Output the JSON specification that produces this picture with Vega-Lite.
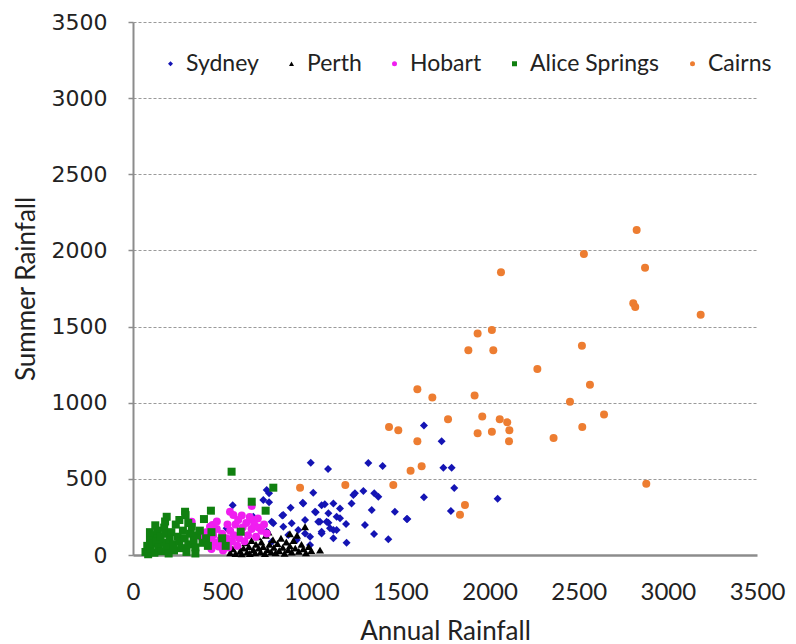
{
  "$schema": "https://vega.github.io/schema/vega-lite/v6.json",
  "autosize": {"type": "none"},
  "width": 624,
  "height": 533,
  "padding": {"left": 133, "top": 22, "right": 39, "bottom": 89},
  "background": "white",
  "config": {"view": {"stroke": null}},
  "data": {"values": [
    {"city":"Sydney","annual":997,"summer":606},{"city":"Sydney","annual":1094,"summer":565},{"city":"Sydney","annual":1320,"summer":604},{"city":"Sydney","annual":1400,"summer":584},{"city":"Sydney","annual":750,"summer":427},{"city":"Sydney","annual":763,"summer":405},{"city":"Sydney","annual":1011,"summer":409},{"city":"Sydney","annual":559,"summer":326},{"city":"Sydney","annual":731,"summer":361},{"city":"Sydney","annual":763,"summer":346},{"city":"Sydney","annual":884,"summer":311},{"city":"Sydney","annual":952,"summer":343},{"city":"Sydney","annual":1058,"summer":326},{"city":"Sydney","annual":1076,"summer":334},{"city":"Sydney","annual":1025,"summer":280},{"city":"Sydney","annual":1096,"summer":274},{"city":"Sydney","annual":1161,"summer":306},{"city":"Sydney","annual":1236,"summer":394},{"city":"Sydney","annual":1245,"summer":405},{"city":"Sydney","annual":1292,"summer":420},{"city":"Sydney","annual":1353,"summer":405},{"city":"Sydney","annual":1376,"summer":383},{"city":"Sydney","annual":837,"summer":260},{"city":"Sydney","annual":778,"summer":219},{"city":"Sydney","annual":843,"summer":186},{"city":"Sydney","annual":890,"summer":208},{"city":"Sydney","annual":965,"summer":230},{"city":"Sydney","annual":1049,"summer":219},{"city":"Sydney","annual":1096,"summer":212},{"city":"Sydney","annual":1142,"summer":251},{"city":"Sydney","annual":1195,"summer":204},{"city":"Sydney","annual":525,"summer":175},{"city":"Sydney","annual":675,"summer":251},{"city":"Sydney","annual":694,"summer":186},{"city":"Sydney","annual":750,"summer":153},{"city":"Sydney","annual":871,"summer":131},{"city":"Sydney","annual":965,"summer":142},{"city":"Sydney","annual":1058,"summer":142},{"city":"Sydney","annual":1124,"summer":164},{"city":"Sydney","annual":1198,"summer":81},{"city":"Sydney","annual":1301,"summer":197},{"city":"Sydney","annual":1352,"summer":138},{"city":"Sydney","annual":993,"summer":66},{"city":"Sydney","annual":778,"summer":87},{"city":"Sydney","annual":918,"summer":98},{"city":"Sydney","annual":1226,"summer":339},{"city":"Sydney","annual":955,"summer":339},{"city":"Sydney","annual":1124,"summer":339},{"city":"Sydney","annual":1339,"summer":295},{"city":"Sydney","annual":1469,"summer":284},{"city":"Sydney","annual":1535,"summer":236},{"city":"Sydney","annual":1021,"summer":284},{"city":"Sydney","annual":1161,"summer":241},{"city":"Sydney","annual":1039,"summer":219},{"city":"Sydney","annual":1086,"summer":219},{"city":"Sydney","annual":1142,"summer":164},{"city":"Sydney","annual":1058,"summer":153},{"city":"Sydney","annual":1432,"summer":103},{"city":"Sydney","annual":1124,"summer":110},{"city":"Sydney","annual":1632,"summer":851},{"city":"Sydney","annual":1731,"summer":747},{"city":"Sydney","annual":1741,"summer":573},{"city":"Sydney","annual":1787,"summer":573},{"city":"Sydney","annual":1802,"summer":440},{"city":"Sydney","annual":1632,"summer":379},{"city":"Sydney","annual":1783,"summer":289},{"city":"Sydney","annual":2045,"summer":370},{"city":"Sydney","annual":1539,"summer":236},{"city":"Sydney","annual":787,"summer":208},{"city":"Sydney","annual":927,"summer":164},{"city":"Sydney","annual":1105,"summer":175},{"city":"Sydney","annual":993,"summer":120},{"city":"Sydney","annual":843,"summer":263},
    {"city":"Perth","annual":545,"summer":15},{"city":"Perth","annual":560,"summer":40},{"city":"Perth","annual":575,"summer":10},{"city":"Perth","annual":590,"summer":60},{"city":"Perth","annual":600,"summer":25},{"city":"Perth","annual":610,"summer":8},{"city":"Perth","annual":620,"summer":45},{"city":"Perth","annual":630,"summer":80},{"city":"Perth","annual":640,"summer":20},{"city":"Perth","annual":650,"summer":55},{"city":"Perth","annual":655,"summer":10},{"city":"Perth","annual":665,"summer":95},{"city":"Perth","annual":675,"summer":35},{"city":"Perth","annual":685,"summer":15},{"city":"Perth","annual":690,"summer":70},{"city":"Perth","annual":700,"summer":120},{"city":"Perth","annual":705,"summer":45},{"city":"Perth","annual":715,"summer":20},{"city":"Perth","annual":720,"summer":85},{"city":"Perth","annual":730,"summer":55},{"city":"Perth","annual":740,"summer":10},{"city":"Perth","annual":745,"summer":130},{"city":"Perth","annual":755,"summer":35},{"city":"Perth","annual":765,"summer":70},{"city":"Perth","annual":775,"summer":20},{"city":"Perth","annual":785,"summer":100},{"city":"Perth","annual":790,"summer":50},{"city":"Perth","annual":800,"summer":15},{"city":"Perth","annual":810,"summer":75},{"city":"Perth","annual":820,"summer":30},{"city":"Perth","annual":830,"summer":110},{"city":"Perth","annual":840,"summer":50},{"city":"Perth","annual":850,"summer":12},{"city":"Perth","annual":860,"summer":85},{"city":"Perth","annual":870,"summer":35},{"city":"Perth","annual":880,"summer":60},{"city":"Perth","annual":890,"summer":20},{"city":"Perth","annual":900,"summer":95},{"city":"Perth","annual":910,"summer":45},{"city":"Perth","annual":920,"summer":130},{"city":"Perth","annual":930,"summer":25},{"city":"Perth","annual":945,"summer":70},{"city":"Perth","annual":955,"summer":40},{"city":"Perth","annual":965,"summer":186},{"city":"Perth","annual":970,"summer":15},{"city":"Perth","annual":985,"summer":55},{"city":"Perth","annual":1000,"summer":30},{"city":"Perth","annual":1049,"summer":32},{"city":"Perth","annual":880,"summer":140},{"city":"Perth","annual":760,"summer":150},
    {"city":"Hobart","annual":329,"summer":219},{"city":"Hobart","annual":432,"summer":186},{"city":"Hobart","annual":446,"summer":197},{"city":"Hobart","annual":544,"summer":284},{"city":"Hobart","annual":563,"summer":262},{"city":"Hobart","annual":666,"summer":322},{"city":"Hobart","annual":672,"summer":230},{"city":"Hobart","annual":700,"summer":240},{"city":"Hobart","annual":750,"summer":142},{"city":"Hobart","annual":380,"summer":120},{"city":"Hobart","annual":400,"summer":90},{"city":"Hobart","annual":410,"summer":150},{"city":"Hobart","annual":420,"summer":60},{"city":"Hobart","annual":430,"summer":110},{"city":"Hobart","annual":440,"summer":40},{"city":"Hobart","annual":450,"summer":130},{"city":"Hobart","annual":460,"summer":80},{"city":"Hobart","annual":470,"summer":170},{"city":"Hobart","annual":480,"summer":55},{"city":"Hobart","annual":490,"summer":100},{"city":"Hobart","annual":500,"summer":140},{"city":"Hobart","annual":505,"summer":30},{"city":"Hobart","annual":515,"summer":75},{"city":"Hobart","annual":525,"summer":110},{"city":"Hobart","annual":535,"summer":50},{"city":"Hobart","annual":545,"summer":160},{"city":"Hobart","annual":555,"summer":90},{"city":"Hobart","annual":565,"summer":130},{"city":"Hobart","annual":575,"summer":200},{"city":"Hobart","annual":585,"summer":60},{"city":"Hobart","annual":595,"summer":110},{"city":"Hobart","annual":605,"summer":150},{"city":"Hobart","annual":615,"summer":180},{"city":"Hobart","annual":625,"summer":90},{"city":"Hobart","annual":635,"summer":210},{"city":"Hobart","annual":645,"summer":130},{"city":"Hobart","annual":655,"summer":250},{"city":"Hobart","annual":665,"summer":170},{"city":"Hobart","annual":680,"summer":200},{"city":"Hobart","annual":690,"summer":120},{"city":"Hobart","annual":705,"summer":180},{"city":"Hobart","annual":720,"summer":160},{"city":"Hobart","annual":735,"summer":200},{"city":"Hobart","annual":590,"summer":230},{"city":"Hobart","annual":610,"summer":260},{"city":"Hobart","annual":530,"summer":200},{"city":"Hobart","annual":470,"summer":220},
    {"city":"Alice Springs","annual":553,"summer":547},{"city":"Alice Springs","annual":787,"summer":442},{"city":"Alice Springs","annual":666,"summer":350},{"city":"Alice Springs","annual":744,"summer":291},{"city":"Alice Springs","annual":604,"summer":153},{"city":"Alice Springs","annual":189,"summer":251},{"city":"Alice Springs","annual":292,"summer":284},{"city":"Alice Springs","annual":295,"summer":262},{"city":"Alice Springs","annual":398,"summer":236},{"city":"Alice Springs","annual":437,"summer":291},{"city":"Alice Springs","annual":70,"summer":20},{"city":"Alice Springs","annual":80,"summer":60},{"city":"Alice Springs","annual":85,"summer":5},{"city":"Alice Springs","annual":95,"summer":100},{"city":"Alice Springs","annual":100,"summer":40},{"city":"Alice Springs","annual":110,"summer":75},{"city":"Alice Springs","annual":115,"summer":130},{"city":"Alice Springs","annual":120,"summer":15},{"city":"Alice Springs","annual":130,"summer":90},{"city":"Alice Springs","annual":140,"summer":160},{"city":"Alice Springs","annual":145,"summer":50},{"city":"Alice Springs","annual":155,"summer":120},{"city":"Alice Springs","annual":160,"summer":25},{"city":"Alice Springs","annual":170,"summer":80},{"city":"Alice Springs","annual":175,"summer":180},{"city":"Alice Springs","annual":185,"summer":140},{"city":"Alice Springs","annual":190,"summer":55},{"city":"Alice Springs","annual":200,"summer":10},{"city":"Alice Springs","annual":205,"summer":100},{"city":"Alice Springs","annual":215,"summer":150},{"city":"Alice Springs","annual":225,"summer":70},{"city":"Alice Springs","annual":230,"summer":30},{"city":"Alice Springs","annual":240,"summer":200},{"city":"Alice Springs","annual":250,"summer":120},{"city":"Alice Springs","annual":260,"summer":90},{"city":"Alice Springs","annual":270,"summer":45},{"city":"Alice Springs","annual":280,"summer":160},{"city":"Alice Springs","annual":290,"summer":110},{"city":"Alice Springs","annual":300,"summer":20},{"city":"Alice Springs","annual":310,"summer":70},{"city":"Alice Springs","annual":320,"summer":140},{"city":"Alice Springs","annual":330,"summer":185},{"city":"Alice Springs","annual":340,"summer":95},{"city":"Alice Springs","annual":350,"summer":50},{"city":"Alice Springs","annual":360,"summer":130},{"city":"Alice Springs","annual":375,"summer":160},{"city":"Alice Springs","annual":390,"summer":80},{"city":"Alice Springs","annual":410,"summer":110},{"city":"Alice Springs","annual":420,"summer":60},{"city":"Alice Springs","annual":95,"summer":150},{"city":"Alice Springs","annual":125,"summer":195},{"city":"Alice Springs","annual":180,"summer":220},{"city":"Alice Springs","annual":260,"summer":230},{"city":"Alice Springs","annual":310,"summer":210},{"city":"Alice Springs","annual":350,"summer":10},{"city":"Alice Springs","annual":440,"summer":150},{"city":"Alice Springs","annual":500,"summer":110},{"city":"Alice Springs","annual":520,"summer":60},
    {"city":"Cairns","annual":2825,"summer":2134},{"city":"Cairns","annual":2529,"summer":1976},{"city":"Cairns","annual":2872,"summer":1887},{"city":"Cairns","annual":2064,"summer":1856},{"city":"Cairns","annual":2806,"summer":1653},{"city":"Cairns","annual":2817,"summer":1628},{"city":"Cairns","annual":3184,"summer":1578},{"city":"Cairns","annual":1933,"summer":1455},{"city":"Cairns","annual":2013,"summer":1477},{"city":"Cairns","annual":1881,"summer":1344},{"city":"Cairns","annual":2021,"summer":1344},{"city":"Cairns","annual":2518,"summer":1374},{"city":"Cairns","annual":2268,"summer":1221},{"city":"Cairns","annual":2563,"summer":1118},{"city":"Cairns","annual":1595,"summer":1088},{"city":"Cairns","annual":1679,"summer":1035},{"city":"Cairns","annual":1916,"summer":1048},{"city":"Cairns","annual":2451,"summer":1007},{"city":"Cairns","annual":2642,"summer":923},{"city":"Cairns","annual":1767,"summer":891},{"city":"Cairns","annual":1959,"summer":910},{"city":"Cairns","annual":2057,"summer":891},{"city":"Cairns","annual":2099,"summer":871},{"city":"Cairns","annual":2111,"summer":819},{"city":"Cairns","annual":2109,"summer":747},{"city":"Cairns","annual":1436,"summer":840},{"city":"Cairns","annual":1488,"summer":819},{"city":"Cairns","annual":1595,"summer":747},{"city":"Cairns","annual":1933,"summer":799},{"city":"Cairns","annual":2013,"summer":810},{"city":"Cairns","annual":2359,"summer":768},{"city":"Cairns","annual":1557,"summer":554},{"city":"Cairns","annual":1619,"summer":582},{"city":"Cairns","annual":1460,"summer":460},{"city":"Cairns","annual":1862,"summer":328},{"city":"Cairns","annual":1834,"summer":265},{"city":"Cairns","annual":2520,"summer":840},{"city":"Cairns","annual":2879,"summer":468},{"city":"Cairns","annual":937,"summer":442},{"city":"Cairns","annual":1191,"summer":460}
  ]},
  "mark": {"type": "point", "filled": true, "opacity": 1, "size": 64, "strokeWidth": 0},
  "encoding": {
    "x": {
      "field": "annual", "type": "quantitative", "title": "Annual Rainfall",
      "scale": {"domain": [0, 3500], "nice": false, "zero": true},
      "axis": {
        "values": [0, 500, 1000, 1500, 2000, 2500, 3000, 3500], "format": "d", "labelFlush": false, "labelOverlap": false,
        "grid": false, "ticks": false,
        "domainColor": "#8c8c8c", "domainWidth": 2.5,
        "labelFont": "Lato", "labelFontSize": 24, "labelColor": "#222222", "labelPadding": 25,
        "titleFont": "Lato", "titleFontSize": 26, "titleFontWeight": "normal", "titleColor": "#222222", "titlePadding": 14
      }
    },
    "y": {
      "field": "summer", "type": "quantitative", "title": "Summer Rainfall",
      "scale": {"domain": [0, 3500], "nice": false, "zero": true},
      "axis": {
        "values": [0, 500, 1000, 1500, 2000, 2500, 3000, 3500], "format": "d", "labelFlush": false, "labelOverlap": false,
        "grid": true, "gridColor": "#9a9a9a", "gridDash": [3, 2], "gridWidth": 1.2,
        "ticks": true, "tickSize": 5, "tickColor": "#8c8c8c", "tickWidth": 1.5,
        "domainColor": "#8c8c8c", "domainWidth": 2,
        "labelFont": "DejaVu Sans", "labelFontSize": 22, "labelColor": "#222222", "labelPadding": 21,
        "titleFont": "Lato", "titleFontSize": 26, "titleFontWeight": "normal", "titleColor": "#222222", "titlePadding": 12
      }
    },
    "color": {
      "field": "city", "type": "nominal",
      "scale": {"domain": ["Sydney", "Perth", "Hobart", "Alice Springs", "Cairns"], "range": ["#1414b4", "#000000", "#f01ef0", "#108010", "#ed7d31"]},
      "legend": {
        "title": null, "orient": "none", "direction": "horizontal", "legendX": 26, "legendY": 30,
        "labelFont": "Lato", "labelFontSize": 23, "labelColor": "#222222",
        "symbolSize": 25, "symbolStrokeWidth": 0, "labelOffset": 4, "columnPadding": 21
      }
    },
    "shape": {
      "field": "city", "type": "nominal",
      "scale": {"domain": ["Sydney", "Perth", "Hobart", "Alice Springs", "Cairns"], "range": ["diamond", "triangle-up", "circle", "square", "circle"]}
    }
  }
}
